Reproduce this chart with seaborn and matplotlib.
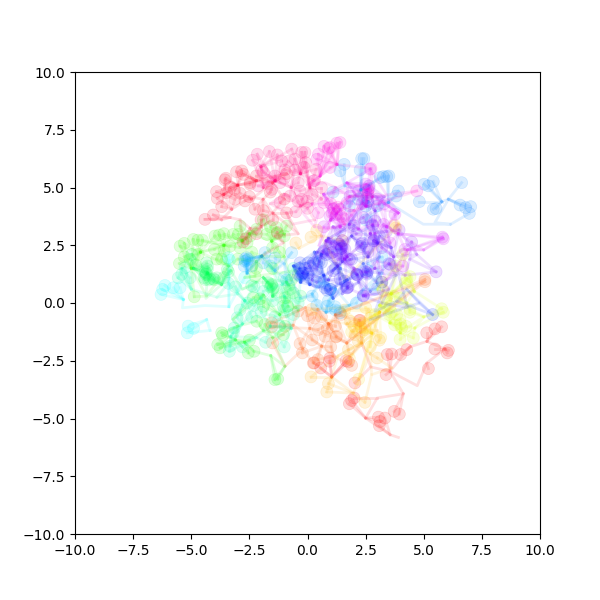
import numpy as np
import pandas as pd
import matplotlib
matplotlib.use("Agg")
import matplotlib.pyplot as plt
import seaborn as sns

# values, one pair of lists per colour group
red_hubs = [(3.91, -5.82), (3.55, -5.7), (2.5, -4.98), (3.0, -4.11), (4.12, -3.93), (3.55, -2.96), (4.72, -3.58), (5.13, -2.6),
            (5.91, -1.99), (5.13, -1.66), (4.41, -1.9), (3.55, -2.96), (2.72, -2.77), (2.33, -1.73), (1.04, -3.2)]
red_leaves = [(5.13, -1.29), (5.48, -1.12), (5.77, -1.03), (6.06, -2.05), (6.01, -2.16), (5.48, -1.99), (4.27, -2.02), (3.62, -2.21),
              (3.43, -2.23), (4.01, -2.23), (5.2, -2.84), (3.38, -3.1), (2.04, -3.46), (2.0, -4.11), (1.9, -4.22), (1.8, -4.36),
              (3.05, -4.94), (3.33, -4.98), (3.12, -5.13), (3.09, -5.31), (3.73, -4.69), (3.95, -4.81), (1.76, -2.55), (1.66, -2.5),
              (0.97, -2.38), (0.94, -2.52), (0.28, -2.59), (0.57, -2.81), (2.26, -0.75)]

salmon_hubs = [(-0.97, -2.74), (-0.2, -2.0), (-0.62, -0.96), (0.61, -1.87), (1.1, -2.3), (0.9, -0.9), (0.45, -0.28), (-0.1, -0.2),
               (0.1, -1.1), (1.69, -1.73), (1.2, -0.5)]
salmon_leaves = [(-1.54, -0.86), (-1.54, -1.03), (-0.32, -1.76), (-0.22, -2.16), (-1.5, -1.73), (0.75, -1.44), (0.46, -1.15), (1.25, -1.44),
                 (0.85, -1.1), (1.23, -1.47), (0.3, -0.65), (1.45, -0.5), (0.0, -0.55),
                 (-0.4, -0.35), (2.22, -0.76), (5.05, 1.02), (5.05, 0.92), (0.6, -0.6), (1.2, -1.0), (0.2, -1.6), (1.0, -1.9), (0.45, -2.45),
                 (1.9, -2.7), (0.25, -2.6)]

orange_hubs = [(3.62, -2.81), (2.76, -3.1), (2.7, -2.2), (1.97, -3.9), (1.04, -3.2), (1.3, -2.3), (2.33, -1.73), (3.0, -1.2), (2.62, -0.28),
               (1.5, -0.2), (1.7, -0.9), (0.6, -0.7)]
orange_leaves = [(0.15, -3.2), (0.9, -3.49), (0.83, -3.85), (2.47, -4.3), (3.0, -2.38), (1.76, -2.02), (0.18, -0.28),
                 (3.09, -1.61), (1.83, -0.79), (2.47, -1.15), (2.39, -0.86), (2.04, -1.37), (2.19, -1.66), (2.3, -1.05)]

gold_hubs = [(-0.36, 2.37), (0.6, 2.9), (1.6, 1.0), (3.9, 3.4)]
gold_leaves = [(0.4, 3.15), (0.15, 2.85), (3.75, 3.35), (3.8, 3.25), (1.5, 2.7), (-0.5, 2.6)]

yellow_hubs = [(2.76, -1.3), (3.1, -0.4), (3.6, 0.2)]
yellow_leaves = [(2.25, -0.9), (2.0, -1.0), (2.35, -1.25), (3.15, -1.5), (2.7, -0.65), (1.9, -1.25), (3.25, 0.55), (1.6, -0.3), (2.5, -0.2),
                 (1.8, -2.4), (2.7, -1.9), (2.2, -3.3)]

lime_hubs = [(4.62, -1.08), (5.0, -0.6), (3.98, -1.28), (3.55, -0.86), (3.1, -0.1), (4.27, 0.0), (4.6, 0.5), (3.6, 0.4), (3.0, 0.6)]
lime_leaves = [(5.77, -0.25), (5.84, -0.4), (4.05, -1.08), (4.24, -1.01), (3.52, -0.5), (3.84, -0.5), (4.55, -1.51), (3.98, -1.58),
               (3.55, -0.14), (4.41, -0.28), (3.98, -0.72), (4.41, 1.14), (4.28, 1.06), (4.09, 2.1), (3.3, -0.2), (3.75, -0.95), (3.4, 0.2),
               (3.7, 0.3), (4.0, 0.2), (4.4, -0.4), (3.6, -0.4), (4.0, -0.9), (3.2, 0.9), (2.9, -0.5), (4.2, 0.85), (3.8, 1.6)]

lightgreen_hubs = [(-5.0, 1.5), (-4.34, 0.3), (-3.4, 1.6), (-4.6, 2.2), (-3.6, 2.5), (-2.8, 2.7), (-2.5, 3.0), (-1.54, 2.68), (-1.0, 3.0),
                   (-1.0, 2.0), (-1.97, 2.03), (-2.2, 1.8), (-2.7, 1.1), (-0.5, 1.4)]
lightgreen_leaves = [(-5.48, 2.46), (-5.3, 2.58), (-4.91, 2.75), (-4.72, 2.72), (-4.52, 2.72), (-4.0, 2.32), (-3.98, 2.9), (-3.8, 2.94),
                     (-3.59, 2.25), (-3.33, 2.46), (-3.19, 2.97), (-2.98, 2.97), (-2.9, 3.33), (-2.26, 1.16), (-5.51, 1.71), (-4.87, 0.27),
                     (-2.47, 2.9), (-2.19, 3.19), (-1.75, 2.97), (-0.9, 3.33), (-1.33, 3.26), (-1.9, 3.6), (-1.3, 3.0), (-2.9, 2.4), (-2.4, 2.2),
                     (-1.5, 2.4), (-1.0, 2.9), (-3.7, 1.9), (-3.0, 1.9), (-2.2, 1.5), (-1.5, 1.5), (-0.7, 1.0), (-3.6, 3.0), (-2.6, 2.6),
                     (-1.6, 3.3), (-1.2, 2.2), (-4.7, 2.1), (-4.8, 1.65), (-3.9, 1.9), (-5.3, 2.0)]

lowgreen_hubs = [(-1.58, -2.28), (-0.97, -2.74), (-1.5, -1.5), (-1.9, -1.2), (-2.7, -1.7), (-3.1, -1.6), (-3.0, -1.0), (-3.2, -0.7),
                 (-1.9, 0.35), (-1.2, -0.5), (-0.5, -0.2)]
lowgreen_leaves = [(-1.4, -3.32), (-1.28, -3.29), (-3.76, -1.94), (-3.86, -1.8), (-3.69, -1.29), (-3.65, -1.41), (-2.55, -2.16), (-2.3, -2.09),
                   (-2.5, -1.61), (-1.83, -0.93), (-1.04, -1.37), (-0.97, -1.01), (-2.33, 0.23), (-2.04, 0.18), (-1.9, -0.14), (-0.97, 0.23),
                   (-0.85, -0.14), (-2.18, -0.79)]

spring_hubs = [(-4.9, 1.5), (-4.3, 1.3), (-4.37, 0.2), (-3.7, 0.8), (-3.3, 1.4), (-2.8, 0.6), (-2.2, 0.9), (-1.9, 1.1), (-0.9, 0.9),
               (-1.5, 0.3), (-1.8, -0.5), (-0.9, -0.6), (-0.4, -0.3)]
spring_leaves = [(-4.98, 2.1), (-5.05, 1.89), (-4.34, 1.74), (-4.31, 1.45), (-4.37, 1.24), (-4.41, 1.02), (-4.05, 1.05), (-3.9, 1.09),
                 (-3.45, 1.45), (-1.54, 0.8), (-1.47, 0.66), (-1.7, 0.89), (-0.75, 0.59), (-0.61, 0.44), (-0.89, 0.23), (-1.05, -0.14),
                 (-4.25, 1.0), (-4.4, 1.35), (-1.6, 0.7), (-4.3, 1.6), (-4.35, 1.3), (-4.45, 1.1), (-4.2, 1.05), (-4.0, 1.0), (-1.55, 0.75),
                 (-1.5, 0.6), (-3.6, 1.1), (-3.4, 1.35), (-2.4, 0.75), (-0.3, 0.3), (-0.8, 0.75)]

mint_hubs = [(-5.4, 1.5), (-5.0, 0.6), (-3.9, 0.25), (-3.0, 0.4), (-2.7, 0.1), (-2.0, 0.2), (-2.8, -0.9), (-3.3, -1.45), (-2.2, -1.5),
             (-1.6, -1.0), (-0.7, -1.1), (-1.0, 0.3), (-1.1, 0.8), (-0.3, 1.0)]
mint_leaves = [(-5.27, 1.53), (-5.41, 1.24), (-5.56, 1.09), (-5.05, 1.09), (-3.15, -1.08), (-3.19, -1.29), (-3.33, -1.87),
               (-3.36, -2.09), (-3.02, -0.64), (-2.6, 0.0), (-2.3, -0.1), (-1.0, 1.1), (-1.6, 1.6), (-0.6, 1.5), (-2.9, -0.3), (-2.4, -0.6),
               (-2.0, -0.4), (-1.4, -0.6), (-1.0, -0.3), (-0.6, -0.5), (-1.9, 0.5), (-1.5, 0.1), (-1.2, -1.0), (-2.8, -1.9), (-1.8, -1.7),
               (-1.0, -1.9), (-3.1, 0.7), (-2.3, 0.7), (-3.4, 0.85), (-0.4, 0.0)]

cyan_hubs = [(-5.34, 0.15), (-5.38, -0.21), (-4.41, -0.11), (-3.38, -0.16)]
cyan2_hubs = [(-4.34, -0.72), (-4.19, -1.19)]
cyan_leaves = [(-6.23, 0.59), (-6.3, 0.37), (-6.13, 0.76), (-5.77, 0.66), (-5.48, 0.66), (-3.41, 1.96), (-3.35, 1.85), (-2.7, 1.1)]
cyan2_leaves = [(-5.13, -1.0), (-5.17, -1.29), (-4.9, -1.1)]

sky_hubs = [(-2.6, 1.3), (-1.97, 2.03), (-1.4, 1.4), (-1.0, 1.7), (-0.3, 0.2), (0.2, 0.4), (0.8, -0.4), (1.2, 0.6), (1.8, -0.1), (2.4, 0.6),
            (3.2, 1.3), (2.6, 1.7)]
sky_leaves = [(-2.62, 1.96), (-2.69, 1.81), (-2.72, 1.6), (-1.83, 2.18), (-1.9, 1.74), (-0.68, 2.18), (0.83, -0.14), (1.18, -0.16),
              (1.4, -0.43), (-0.9, 1.0), (0.5, 0.9), (-2.55, 1.9), (-2.6, 1.85), (-2.7, 1.9), (-2.4, 1.6), (-1.4, 1.95), (0.4, -0.1),
              (0.2, 0.3), (0.9, 0.1), (1.2, -0.3), (2.1, 0.0), (2.9, 0.6), (3.2, 2.0), (0.7, 0.95)]

azure_hubs = [(1.61, 5.07), (2.3, 4.9), (3.48, 4.35), (4.98, 3.41), (6.16, 3.41), (5.48, 3.48), (6.06, 4.49), (5.77, 4.39)]
azure_leaves = [(2.33, 6.25), (2.43, 6.25), (1.4, 5.72), (1.58, 6.0), (2.26, 5.76), (3.12, 5.43), (3.26, 5.47), (3.41, 5.47), (3.5, 5.5),
                (3.91, 4.85), (3.81, 4.63), (5.02, 5.14), (5.2, 5.07), (5.41, 5.26), (6.63, 5.21), (4.81, 4.39), (5.53, 4.09), (5.41, 4.06),
                (6.56, 4.24), (6.8, 4.13), (7.02, 4.17), (6.96, 3.88), (1.1, 4.8), (2.2, 4.5), (2.5, 4.2), (1.8, 4.2), (2.5, 3.6), (3.0, 4.2)]

blue_hubs = [(-0.6, 1.6), (-0.3, 0.9), (0.1, 0.8), (0.7, 1.2), (0.3, 2.2), (0.6, 2.1), (1.4, 1.5), (1.1, 0.2), (1.7, 1.0), (2.4, 1.7),
             (3.1, 2.0), (2.98, 0.88), (3.4, 0.9), (2.9, -0.36), (3.84, 0.08), (4.27, 0.59), (4.8, 0.0), (2.69, -0.72)]
blue_leaves = [(-0.32, 1.74), (0.03, 1.74), (0.25, 1.74), (-0.4, 1.24), (-0.25, 1.24), (0.03, 1.24), (0.75, 0.66), (0.97, 0.59), (5.38, -0.5),
               (2.13, 1.24), (0.85, 0.55), (-0.1, 1.5), (0.4, 1.45), (-0.35, 1.5), (0.6, 1.75), (1.2, 1.5), (1.6, 0.95), (2.55, 1.25),
               (1.45, 2.35), (2.6, 4.4), (-0.3, 1.15), (0.0, 1.3), (1.0, 0.6), (2.6, 1.4), (0.5, 1.8), (1.7, 0.65)]

indigo_hubs = [(0.2, 1.0), (0.4, 2.2), (0.9, 2.8), (1.5, 1.8), (1.3, 1.6), (1.5, 0.4), (2.2, 0.9), (2.7, 0.5), (3.1, 1.3), (3.8, 1.2),
               (3.2, 0.0), (4.3, -0.2), (3.6, 2.4), (3.0, 2.6), (2.6, 2.0), (1.9, 2.9), (0.9, 1.0)]
indigo_leaves = [(1.35, 2.55), (1.45, 2.45), (2.35, 2.6), (2.3, 2.45), (2.85, 2.7), (1.75, 0.7), (2.15, 1.2), (2.5, 1.35),
                 (3.5, 1.7), (3.2, 0.9), (0.8, 2.1), (0.7, 2.25), (1.1, 2.2), (1.9, 1.9), (0.4, 0.9),
                 (0.1, 1.6), (-0.2, 1.3), (2.4, 0.3), (1.1, 1.4), (1.4, 1.05), (2.8, 3.35), (3.1, 2.9), (2.0, 3.35)]

violet_hubs = [(0.4, 1.5), (0.8, 2.7), (1.1, 3.3), (1.8, 3.4), (1.7, 2.0), (1.6, 1.9), (2.0, 1.5), (2.5, 0.3), (3.1, 0.4), (3.5, 0.6),
               (2.9, 1.5), (4.2, 1.2), (4.4, 1.9), (4.7, 2.1), (3.7, 2.0), (2.7, 3.0), (2.9, 4.0), (3.3, 4.6)]
violet_leaves = [(1.4, 2.54), (1.47, 2.39), (0.68, 2.18), (2.11, 1.24), (2.55, 1.31), (1.71, 0.66), (2.4, 0.33), (3.55, 1.67), (2.33, 2.54),
                 (2.83, 2.68), (1.8, 1.89), (1.04, 2.18), (1.61, 2.32), (1.83, 4.63), (4.48, 2.64), (5.53, 1.35), (3.94, 3.16),
                 (2.65, 5.07), (2.55, 4.56), (1.4, 3.1), (2.1, 3.0), (2.6, 2.2), (1.3, 1.9), (2.9, 3.55), (3.4, 3.1), (2.4, 3.7), (1.5, 2.7),
                 (3.2, 2.4), (1.0, 2.55)]

purple_hubs = [(0.5, 2.5), (1.0, 3.6), (1.4, 3.3), (2.2, 3.2), (2.9, 3.0), (3.0, 1.8), (3.4, 1.0), (4.3, 2.3), (5.0, 2.3), (3.9, 3.0),
               (3.4, 3.3), (3.9, 3.9), (2.5, 4.2), (1.7, 5.2), (0.7, 4.7)]
purple_leaves = [(1.11, 4.06), (1.4, 4.06), (1.26, 3.84), (0.97, 3.77), (5.8, 2.85), (5.84, 2.78), (2.69, 5.79), (4.19, 2.32), (3.76, 3.84),
                 (3.27, 3.4), (1.7, 4.35), (2.35, 4.3), (3.0, 4.5), (1.9, 3.8), (3.3, 4.3), (2.8, 3.4), (0.7, 3.3), (3.55, 2.6), (4.1, 1.6),
                 (1.55, 3.65), (2.2, 4.85), (2.5, 5.15), (2.5, 4.9), (2.65, 4.95)]

magenta_hubs = [(1.26, 6.0), (0.54, 5.5), (0.0, 5.1), (0.75, 5.21), (1.2, 5.0), (1.8, 4.6), (2.8, 4.6), (2.0, 4.0), (1.6, 3.4), (0.9, 3.2),
                (0.3, 3.3), (-0.2, 3.9), (0.2, 4.3)]
magenta_leaves = [(1.4, 6.95), (1.26, 6.92), (0.97, 6.73), (0.97, 5.87), (2.73, 5.82), (0.47, 6.44), (0.4, 6.22), (0.71, 6.78), (0.9, 6.69),
                  (0.25, 5.28), (0.47, 3.91), (1.0, 4.3), (1.3, 4.15), (1.05, 3.9), (0.7, 4.35), (4.7, 4.85), (2.6, 4.9), (2.6, 4.7), (1.15, 4.1),
                  (1.45, 3.75)]

pink_hubs = [(-2.0, 5.9), (-1.9, 5.0), (-1.4, 5.3), (-0.7, 5.0), (-0.3, 5.6), (0.1, 5.0), (0.6, 4.5), (-0.3, 4.2), (-1.0, 4.7), (-1.6, 4.3),
             (-0.9, 3.9), (-0.7, 3.4), (0.3, 3.6)]
pink_leaves = [(-1.64, 6.56), (-1.3, 6.41), (-0.68, 6.66), (-0.25, 6.52), (-0.11, 6.52), (-1.11, 6.15), (-0.83, 6.13), (-0.54, 6.23), (-0.08, 6.08),
               (-0.97, 5.76), (-0.54, 5.76), (-0.15, 5.87), (0.37, 5.79), (-0.32, 4.85), (-0.25, 4.49), (-0.75, 4.63), (-1.18, 5.21), (-1.18, 4.35),
               (-1.54, 4.92), (-2.16, 6.44), (-2.36, 6.18), (-1.97, 5.76), (-1.9, 5.65), (-2.12, 5.07), (0.0, 4.1), (-0.5, 3.95), (-1.0, 5.4),
               (-0.4, 5.2), (-1.4, 5.5), (-1.7, 5.3), (0.3, 5.3), (0.6, 5.0), (0.2, 4.7), (-0.4, 4.4), (0.0, 4.4)]

rose_hubs = [(-3.0, 5.1), (-2.2, 5.3), (-1.5, 5.2), (-2.4, 4.5), (-3.6, 4.7), (-3.26, 4.06), (-3.7, 3.6), (-3.33, 3.7), (-2.9, 3.6), (-2.47, 3.23),
             (-2.0, 3.3), (-1.91, 4.49), (-1.5, 3.9), (-0.4, 3.0), (-1.4, 2.9), (-1.04, 2.61), (-1.97, 2.03)]
rose_leaves = [(-2.83, 5.72), (-3.05, 5.68), (-2.76, 5.57), (-3.51, 5.4), (-3.55, 5.33), (-3.91, 4.82), (-3.88, 4.53), (-3.69, 4.17), (-3.15, 4.92),
               (-3.48, 4.78), (-2.9, 4.75), (-3.12, 4.49), (-2.26, 4.06), (-2.69, 4.42), (-4.05, 3.81), (-4.41, 3.62), (-2.47, 5.21), (-2.47, 5.14),
               (-2.77, 2.64), (-2.65, 2.78), (-2.2, 5.5), (-1.6, 4.8), (-0.9, 5.6), (-3.3, 5.0), (-2.5, 4.6), (-1.9, 4.0), (-1.0, 4.5), (-1.5, 3.6),
               (-2.2, 3.0), (-2.0, 3.6), (-0.9, 3.9), (-1.3, 3.05)]

# name, palette index, spokes per leaf, hubs, leaves
groups = [
    ("red", 0, 1, red_hubs, red_leaves),
    ("salmon", 2, 2, salmon_hubs, salmon_leaves),
    ("orange", 4, 2, orange_hubs, orange_leaves),
    ("gold", 4, 1, gold_hubs, gold_leaves),
    ("yellow", 5, 2, yellow_hubs, yellow_leaves),
    ("lime", 7, 2, lime_hubs, lime_leaves),
    ("lightgreen", 11, 2, lightgreen_hubs, lightgreen_leaves),
    ("lowgreen", 12, 2, lowgreen_hubs, lowgreen_leaves),
    ("spring", 14, 2, spring_hubs, spring_leaves),
    ("mint", 16, 2, mint_hubs, mint_leaves),
    ("cyan", 18, 1, cyan_hubs, cyan_leaves),
    ("cyan2", 18, 1, cyan2_hubs, cyan2_leaves),
    ("sky", 20, 2, sky_hubs, sky_leaves),
    ("azure", 21, 1, azure_hubs, azure_leaves),
    ("blue", 23, 3, blue_hubs, blue_leaves),
    ("indigo", 25, 3, indigo_hubs, indigo_leaves),
    ("violet", 27, 3, violet_hubs, violet_leaves),
    ("purple", 29, 3, purple_hubs, purple_leaves),
    ("magenta", 31, 2, magenta_hubs, magenta_leaves),
    ("pink", 33, 2, pink_hubs, pink_leaves),
    ("rose", 35, 2, rose_hubs, rose_leaves),
]

colors = sns.hls_palette(36, h=0.0, l=0.5, s=1.0)
group_palette = {g[0]: colors[g[1]] for g in groups}

rows = []
for name, _, _, _, leaves in groups:
    for x, y in leaves:
        rows.append({"x": x, "y": y, "group": name})
df = pd.DataFrame(rows)

fig, ax = plt.subplots(figsize=(6, 6), dpi=100)

for name, _, n_spokes, hubs, leaves in groups:
    hubs_arr = np.array(hubs)
    ax.plot(hubs_arr[:, 0], hubs_arr[:, 1], color=group_palette[name], alpha=0.12, lw=2)
    # every leaf hangs off the closest hubs of its chain
    for x, y in leaves:
        order = np.argsort(np.hypot(hubs_arr[:, 0] - x, hubs_arr[:, 1] - y))
        for hub in hubs_arr[order[:n_spokes]]:
            ax.plot([hub[0], x], [hub[1], y], color=group_palette[name], alpha=0.12, lw=2)

sns.scatterplot(data=df, x="x", y="y", hue="group", palette=group_palette, s=75, alpha=0.14,
                edgecolor="face", linewidth=0.5, legend=False, ax=ax)

ax.set_xlim(-10, 10)
ax.set_ylim(-10, 10)
ax.set_xlabel("")
ax.set_ylabel("")

plt.savefig("out.png", dpi=100)
plt.close()
